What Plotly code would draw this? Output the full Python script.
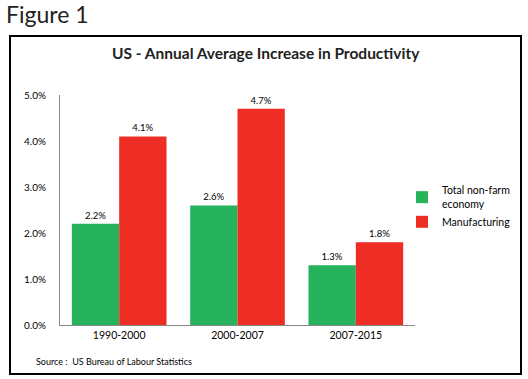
import plotly.graph_objects as go

categories = ["1990-2000", "2000-2007", "2007-2015"]
nonfarm = [2.2, 2.6, 1.3]
manufacturing = [4.1, 4.7, 1.8]
y_ticks = [0, 1, 2, 3, 4, 5]
y_tick_labels = ["0.0%", "1.0%", "2.0%", "3.0%", "4.0%", "5.0%"]

FONT = "Lato, 'Open Sans', sans-serif"
W, H = 528, 379
L, R, T, B = 60, 113, 95, 54
pw, ph = W - L - R, H - T - B

def px_x(x):
    return (x - L) / pw

def px_y(y):
    return (H - B - y) / ph

fig = go.Figure()
fig.add_trace(go.Bar(
    x=categories, y=nonfarm, name="Total non-farm<br>economy",
    marker=dict(color="#27b25c", line=dict(width=0)),
    text=[f"{v:.1f}%" for v in nonfarm], textposition="outside",
    textfont=dict(size=9.5, color="#000"), cliponaxis=False,
))
fig.add_trace(go.Bar(
    x=categories, y=manufacturing, name="Manufacturing",
    marker=dict(color="#ee2e24", line=dict(width=0)),
    text=[f"{v:.1f}%" for v in manufacturing], textposition="outside",
    textfont=dict(size=9.5, color="#000"), cliponaxis=False,
))

fig.update_layout(
    width=W, height=H,
    margin=dict(l=L, r=R, t=T, b=B, autoexpand=False),
    paper_bgcolor="white", plot_bgcolor="white",
    barmode="group", bargap=0.2, bargroupgap=0,
    font=dict(family=FONT, size=9, color="#000"),
    showlegend=True,
    legend=dict(x=px_x(402), y=px_y(177), xanchor="left", yanchor="top",
                font=dict(size=10.5, color="#000"), itemwidth=30,
                tracegroupgap=8, bgcolor="rgba(0,0,0,0)"),
    xaxis=dict(showline=True, linecolor="#888", linewidth=1, ticks="",
               tickfont=dict(size=10.5, color="#000"), showgrid=False,
               fixedrange=True, automargin=False),
    yaxis=dict(range=[0, 5], tickvals=y_ticks, ticktext=y_tick_labels,
               showline=True, linecolor="#888", linewidth=1, ticks="",
               showgrid=False, zeroline=False, ticklabelstandoff=11,
               automargin=False, fixedrange=True,
               tickfont=dict(size=10, color="#000")),
    shapes=[dict(type="rect", xref="paper", yref="paper",
                 x0=px_x(10), x1=px_x(521), y0=px_y(374), y1=px_y(36),
                 line=dict(color="black", width=2), fillcolor="rgba(0,0,0,0)")],
    annotations=[
        dict(text="Figure 1", xref="paper", yref="paper", x=px_x(4), y=px_y(14),
             xanchor="left", yanchor="middle", showarrow=False,
             font=dict(size=23, color="#222", family=FONT)),
        dict(text="<b>US - Annual Average Increase in Productivity</b>", xref="paper", yref="paper",
             x=px_x(266), y=px_y(53), xanchor="center", yanchor="middle", showarrow=False,
             font=dict(size=15.5, color="#222", family=FONT)),
        dict(text="Source :  US Bureau of Labour Statistics", xref="paper", yref="paper",
             x=px_x(34), y=px_y(361), xanchor="left", yanchor="middle", showarrow=False,
             font=dict(size=9, color="#000", family=FONT)),
    ],
)

fig.write_html("out.html", config={"displayModeBar": False},
               post_script="document.body.style.margin='0';")
